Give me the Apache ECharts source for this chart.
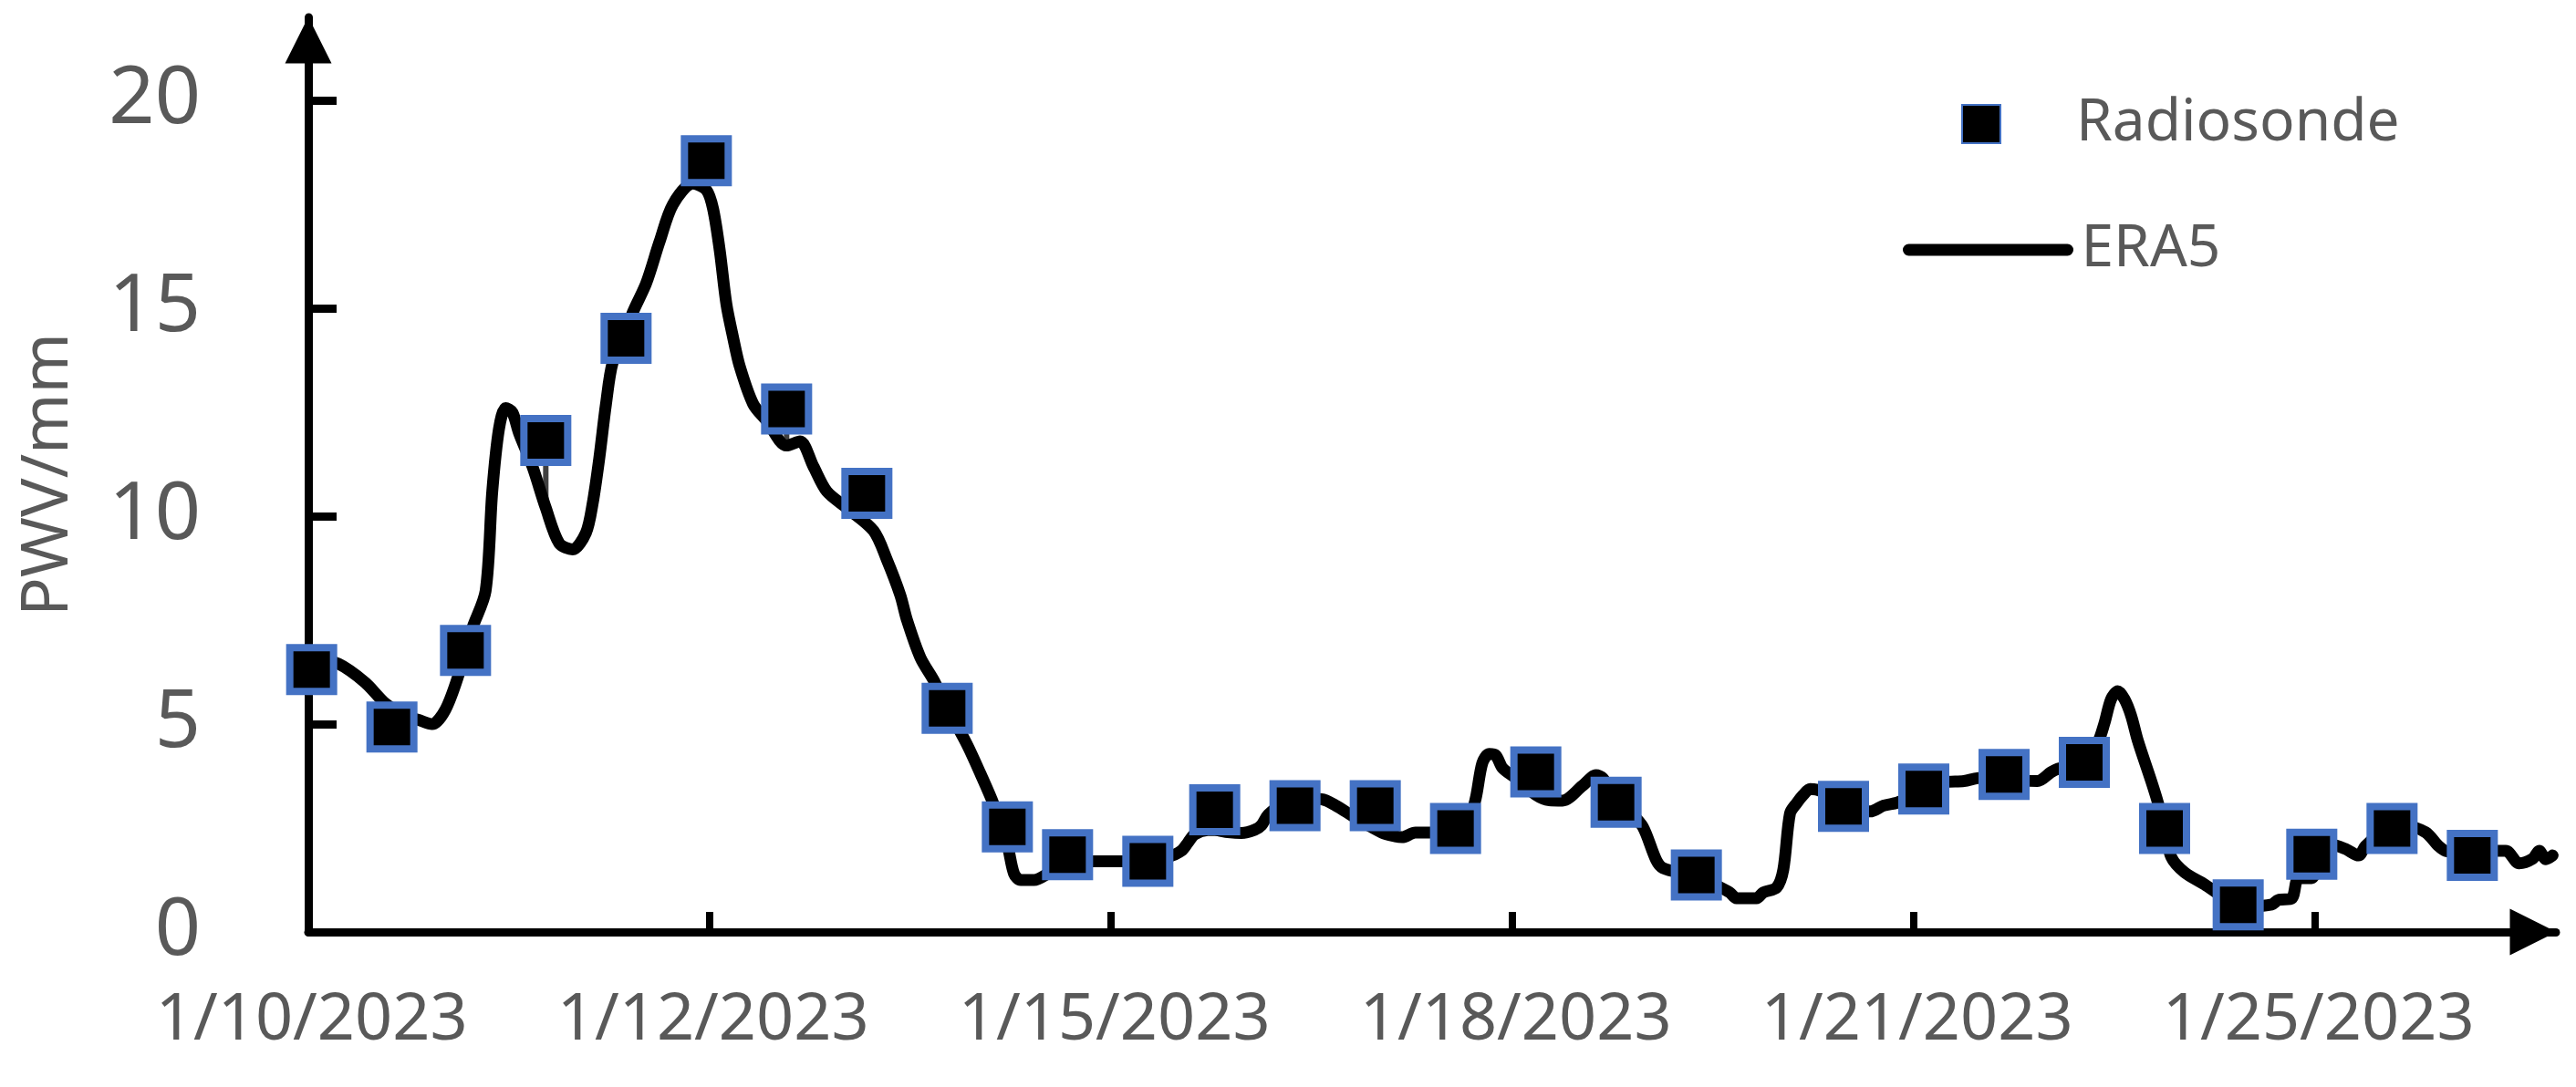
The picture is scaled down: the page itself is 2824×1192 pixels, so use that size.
<!DOCTYPE html>
<html>
<head>
<meta charset="utf-8">
<script src="https://cdn.jsdelivr.net/npm/echarts@6/dist/echarts.min.js"></script>
<style>
html,body{margin:0;padding:0;background:#ffffff;}
#chart{width:2824px;height:1192px;}
</style>
</head>
<body>
<div id="chart"></div>
<script>
// ---- data (x = hourly record index, categories are band-centred) ----
const totalHours = 336;
const tickHours = [0, 60, 120, 180, 240, 300];
const tickLabels = ['1/10/2023', '1/12/2023', '1/15/2023', '1/18/2023', '1/21/2023', '1/25/2023'];
const yTicks = [0, 5, 10, 15, 20];

const sondeHours = [0, 12, 23, 35, 47, 59, 71, 83, 95, 104, 113, 125, 135, 147, 159, 171, 183, 195, 207, 229, 241, 253, 265, 277, 288, 299, 311, 323];
const sondeValues = [6.31, 4.93, 6.77, 11.82, 14.28, 18.55, 12.58, 10.55, 5.38, 2.53, 1.86, 1.70, 2.94, 3.04, 3.04, 2.49, 3.85, 3.12, 1.37, 3.02, 3.44, 3.79, 4.08, 2.49, 0.65, 1.87, 2.49, 1.84];

const era5Hours = [0, 4, 8, 11, 14, 16, 18, 20, 22, 24, 26, 27, 28, 29, 30, 31, 33, 35, 37, 39, 41, 42, 43, 44, 45, 47, 48, 50, 52, 54, 57, 59, 60, 61, 62, 63, 64, 66, 68, 71, 73, 75, 77, 80, 84, 86, 88, 89, 91, 93, 95, 98, 100, 102, 104, 105, 106, 108, 110, 113, 117, 121, 125, 128, 130, 131, 132, 134, 135, 137, 139, 141, 142, 143, 145, 147, 149, 151, 153, 156, 160, 162, 163, 165, 167, 170, 173, 174, 175, 176, 177, 178, 180, 183, 185, 187, 190, 192, 193, 195, 197, 199, 201, 202, 205, 207, 209, 212, 213, 216, 217, 219, 220, 221, 222, 223, 224, 225, 227, 229, 231, 233, 235, 237, 239, 241, 244, 247, 249, 251, 253, 256, 258, 260, 261, 263, 265, 267, 268, 269, 270, 271, 272, 273, 275, 276, 277, 278, 280, 283, 285, 287, 288, 290, 293, 294, 296, 297, 299, 300, 302, 304, 306, 307, 309, 311, 313, 316, 318, 319, 321, 323, 325, 328, 330, 332, 333, 334, 335];
const era5Values = [6.6, 6.45, 6.0, 5.5, 5.2, 5.1, 5.0, 5.35, 6.2, 7.3, 8.2, 10.6, 12.1, 12.6, 12.5, 12.0, 11.2, 10.2, 9.35, 9.2, 9.6, 10.3, 11.4, 12.7, 13.7, 14.4, 14.9, 15.6, 16.6, 17.5, 18.0, 17.85, 17.4, 16.4, 15.1, 14.3, 13.6, 12.7, 12.3, 11.7, 11.8, 11.2, 10.6, 10.2, 9.65, 8.95, 8.1, 7.5, 6.6, 6.05, 5.4, 4.5, 3.8, 3.05, 2.1, 1.4, 1.25, 1.25, 1.4, 1.71, 1.7, 1.7, 1.7, 1.8, 1.95, 2.15, 2.35, 2.45, 2.45, 2.4, 2.38, 2.46, 2.57, 2.82, 3.05, 3.1, 3.2, 3.19, 3.05, 2.75, 2.39, 2.3, 2.28, 2.39, 2.39, 2.45, 2.75, 3.2, 4.06, 4.28, 4.25, 3.95, 3.7, 3.3, 3.17, 3.16, 3.52, 3.77, 3.7, 3.2, 2.9, 2.53, 1.73, 1.54, 1.42, 1.38, 1.2, 0.95, 0.81, 0.81, 0.95, 1.07, 1.5, 2.85, 3.1, 3.3, 3.44, 3.42, 3.3, 3.1, 2.9, 2.9, 3.04, 3.11, 3.25, 3.45, 3.6, 3.63, 3.7, 3.72, 3.75, 3.65, 3.63, 3.84, 3.92, 4.0, 4.1, 4.55, 5.02, 5.6, 5.79, 5.6, 5.2, 4.6, 3.63, 3.11, 2.5, 1.8, 1.43, 1.14, 0.92, 0.72, 0.66, 0.62, 0.66, 0.77, 0.81, 1.29, 1.3, 1.7, 2.1, 2.0, 1.84, 2.06, 2.35, 2.55, 2.55, 2.4, 2.06, 1.95, 1.9, 1.9, 1.95, 1.95, 1.65, 1.76, 1.95, 1.75, 1.84];

// ---- build series data (points sit at the centre of their hourly band) ----
const bandCentre = h => h + 0.5;
const sondeData = sondeHours.map((h, i) => [bandCentre(h), sondeValues[i]]);
const era5Data = era5Hours.map((h, i) => [bandCentre(h), era5Values[i]]);
const hiLoData = [];
sondeHours.forEach((h, i) => {
  const j = era5Hours.indexOf(h);
  if (j >= 0) hiLoData.push([bandCentre(h), sondeValues[i], era5Values[j]]);
});

const FONT = '"Noto Sans", "Open Sans", sans-serif';
const GREY = '#595959';
const ARROW = 'path://M0,10 L5,0 L10,10 Z';

const chart = echarts.init(document.getElementById('chart'), null, {renderer: 'canvas'});
chart.setOption({
  animation: false,
  backgroundColor: '#ffffff',
  textStyle: {fontFamily: FONT},
  grid: {left: 338, right: 22, top: 19, bottom: 170, containLabel: false, outerBoundsMode: 'none'},
  legend: [
    {
      data: ['Radiosonde'],
      left: 2150, top: 104, padding: 0,
      itemWidth: 42, itemHeight: 42,
      selectedMode: false,
      textStyle: {fontFamily: FONT, fontSize: 64, color: GREY, lineHeight: 60, padding: [0, 0, 0, 78]}
    },
    {
      data: ['ERA5'],
      left: 2086, top: 242, padding: 0,
      itemWidth: 174, itemHeight: 13,
      selectedMode: false,
      lineStyle: {width: 13},
      textStyle: {fontFamily: FONT, fontSize: 64, color: GREY, lineHeight: 60, padding: [0, 0, 0, 10]}
    }
  ],
  xAxis: {
    type: 'value',
    min: 0, max: totalHours, interval: 60,
    axisLine: {show: true, onZero: false, lineStyle: {color: '#000', width: 9},
      symbol: ['none', ARROW], symbolSize: [51, 51], symbolOffset: [0, -25]},
    axisTick: {show: true, inside: true, length: 22, lineStyle: {color: '#000', width: 8}, customValues: tickHours},
    axisLabel: {
      customValues: tickHours.map(bandCentre),
      formatter: v => tickLabels[tickHours.indexOf(Math.floor(v))] || '',
      fontFamily: FONT, fontSize: 72, color: GREY, margin: 61
    },
    splitLine: {show: false}
  },
  yAxis: {
    type: 'value',
    min: 0, max: 22, interval: 5,
    name: 'PWV/mm', nameLocation: 'middle', nameGap: 249,
    nameTextStyle: {fontFamily: FONT, fontSize: 71, color: GREY},
    axisLine: {show: true, lineStyle: {color: '#000', width: 9},
      symbol: ['none', ARROW], symbolSize: [51, 51], symbolOffset: [0, -25]},
    axisTick: {show: true, inside: true, length: 31, lineStyle: {color: '#000', width: 9}, customValues: yTicks},
    axisLabel: {customValues: yTicks, fontFamily: FONT, fontSize: 88, color: GREY, margin: 118},
    splitLine: {show: false}
  },
  series: [
    {
      name: 'HighLow',
      type: 'custom',
      z: 1,
      data: hiLoData,
      encode: {x: 0, y: [1, 2]},
      renderItem: (params, api) => {
        const p1 = api.coord([api.value(0), api.value(1)]);
        const p2 = api.coord([api.value(0), api.value(2)]);
        return {type: 'line', shape: {x1: p1[0], y1: p1[1], x2: p2[0], y2: p2[1]},
          style: {stroke: '#404040', lineWidth: 6}};
      },
      silent: true
    },
    {
      name: 'ERA5',
      type: 'line',
      z: 2,
      data: era5Data,
      symbol: 'none',
      smooth: 0.3,
      lineStyle: {color: '#000', width: 13, cap: 'round', join: 'round'},
      itemStyle: {color: '#000'}
    },
    {
      name: 'Radiosonde',
      type: 'scatter',
      z: 3,
      data: sondeData,
      symbol: 'rect',
      symbolSize: 48,
      itemStyle: {color: '#000', borderColor: '#4472C4', borderWidth: 8, opacity: 1}
    }
  ]
});
</script>
</body>
</html>
